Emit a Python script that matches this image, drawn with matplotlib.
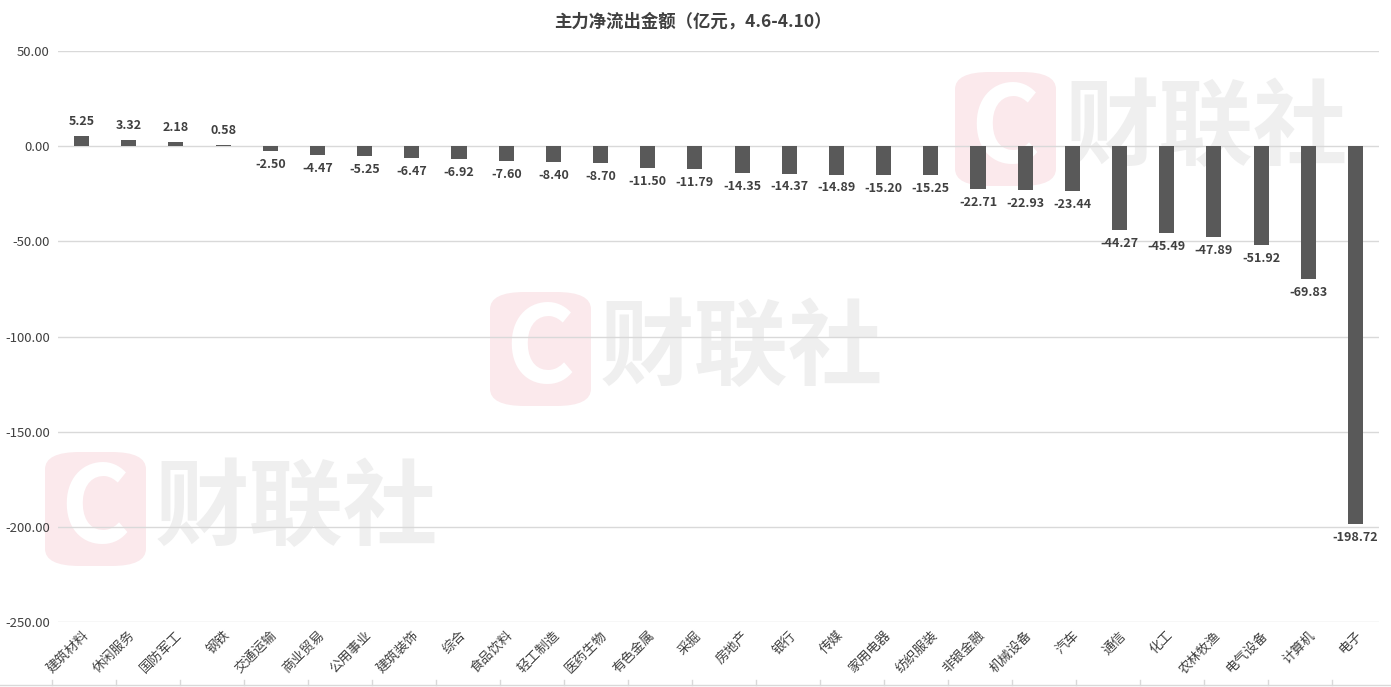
import matplotlib
matplotlib.use("Agg")
import matplotlib.pyplot as plt
from matplotlib.patches import FancyBboxPatch
from matplotlib.lines import Line2D

plt.rcParams['font.family'] = ['Noto Sans CJK SC', 'DejaVu Sans']

categories = ['建筑材料', '休闲服务', '国防军工', '钢铁', '交通运输', '商业贸易', '公用事业',
              '建筑装饰', '综合', '食品饮料', '轻工制造', '医药生物', '有色金属', '采掘',
              '房地产', '银行', '传媒', '家用电器', '纺织服装', '非银金融', '机械设备',
              '汽车', '通信', '化工', '农林牧渔', '电气设备', '计算机', '电子']
values = [5.25, 3.32, 2.18, 0.58, -2.50, -4.47, -5.25, -6.47, -6.92, -7.60, -8.40,
          -8.70, -11.50, -11.79, -14.35, -14.37, -14.89, -15.20, -15.25, -22.71,
          -22.93, -23.44, -44.27, -45.49, -47.89, -51.92, -69.83, -198.72]
yticks = [50, 0, -50, -100, -150, -200, -250]

W, H = 1391, 687
fig = plt.figure(figsize=(W / 100, H / 100), dpi=100)
ax = fig.add_axes([58 / W, 1 - 622 / H, (1379 - 58) / W, (622 - 51) / H])
ax.set_zorder(2)


def watermark(x0, y0):
    # pink rounded "C" logo plus grey brand text, pixel coords from top-left
    box = FancyBboxPatch((x0 / W, 1 - (y0 + 114) / H), 101 / W, 114 / H,
                         boxstyle="round,pad=0,rounding_size=0.025",
                         transform=fig.transFigure, facecolor='#fbe9ec',
                         edgecolor='none', zorder=0)
    fig.add_artist(box)
    fig.text((x0 + 50) / W, 1 - (y0 + 60) / H, 'C', fontsize=76, fontweight='bold',
             color='white', ha='center', va='center', zorder=0.5)
    fig.text((x0 + 110) / W, 1 - (y0 + 58) / H, '财联社', fontsize=68, fontweight='bold',
             color='#efefef', ha='left', va='center', zorder=0.5)


watermark(955, 72)
watermark(490, 292)
watermark(45, 452)

x = list(range(len(categories)))
ax.bar(x, values, width=0.32, color='#595959', zorder=3)
ax.set_xlim(-0.5, len(categories) - 0.5)
ax.set_ylim(-250, 50)
ax.set_yticks(yticks)
ax.set_yticklabels([f'{v:.2f}' for v in yticks], fontsize=9.5, color='#404040')
ax.grid(axis='y', color='#d9d9d9', linewidth=1, zorder=0)
ax.set_axisbelow(True)
ax.tick_params(axis='y', length=0, pad=6)
ax.set_xticks(x)
ax.set_xticklabels(categories, rotation=45, ha='right', rotation_mode='anchor',
                   fontsize=9.5, color='#404040')
ax.tick_params(axis='x', length=0, pad=5)
for s in ax.spines.values():
    s.set_visible(False)
ax.patch.set_alpha(0)

for xi, v in zip(x, values):
    if v >= 0:
        ax.annotate(f'{v:.2f}', (xi, v), xytext=(0, 6), textcoords='offset points',
                    ha='center', va='bottom', fontsize=9, fontweight='bold', color='#404040')
    else:
        ax.annotate(f'{v:.2f}', (xi, v), xytext=(0, -5), textcoords='offset points',
                    ha='center', va='top', fontsize=9, fontweight='bold', color='#404040')

fig.text(693 / W, 1 - 22 / H, '主力净流出金额（亿元，4.6-4.10）', fontsize=12.5,
         fontweight='bold', color='#404040', ha='center', va='center')

# bottom axis line with tick marks
fig.add_artist(Line2D([0, 1], [1 - 685 / H] * 2, transform=fig.transFigure,
                      color='#d9d9d9', linewidth=1))
for k in range(21):
    px = 52 + 64 * k
    fig.add_artist(Line2D([px / W] * 2, [1 - 685 / H, 1 - 680 / H],
                          transform=fig.transFigure, color='#d9d9d9', linewidth=1))

fig.savefig('out.png', dpi=100)
